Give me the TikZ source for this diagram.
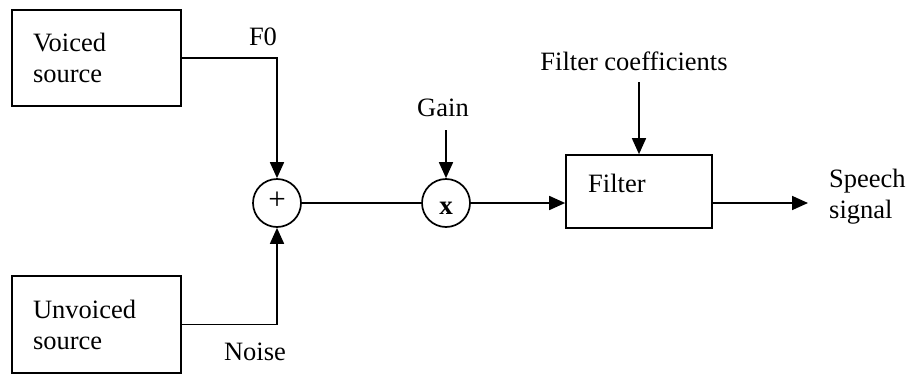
\documentclass[tikz,border=0pt]{standalone}
\usepackage{fontspec}
\setmainfont{Liberation Serif}
\usetikzlibrary{arrows.meta,calc}
\begin{document}
\begin{tikzpicture}[x=1pt,y=-1pt,
  every node/.style={font=\fontsize{26.5}{31}\selectfont},
  line/.style={line width=1.7pt},
  arr/.style={line width=1.7pt,-{Triangle[length=16pt,width=14pt]}},
  srcbox/.style={draw,line width=1.7pt,rectangle,minimum width=169pt,minimum height=96pt,
     text width=127pt,inner xsep=21pt,align=left},
  junction/.style={draw,line width=1.7pt,circle,minimum size=48pt,inner sep=0pt},
  lbl/.style={inner sep=0pt}]
\fill[white] (0,0) rectangle (910,375);
\useasboundingbox (0,0) rectangle (910,375);
\node[srcbox] (voiced) at (96.5,58) {Voiced\\source};
\node[srcbox,minimum height=97pt] (unvoiced) at (96.5,324.5) {Unvoiced\\source};
\node[junction] (plus) at (277,203) {};
\node[lbl,font=\fontsize{31}{31}\selectfont] at (277,201) {+};
\node[junction] (mult) at (446,203) {};
\node[lbl,font=\fontsize{27}{31}\selectfont\bfseries] at (446,208) {x};
\node[draw,line width=1.7pt,rectangle,minimum width=146pt,minimum height=73pt,inner sep=0pt] (filter) at (639,191.5) {};
\node[lbl,anchor=west] (filtertxt) at (588,183) {Filter};
\node[lbl] (f0) at (263,37) {F0};
\node[lbl] (noise) at (255,352) {Noise};
\node[lbl] (gain) at (443,108) {Gain};
\node[lbl] (coef) at (634,61) {Filter coefficients};
\node[lbl,anchor=west,align=left] (speech) at (829,197) {Speech\\signal};
\coordinate (gainstart) at (446,130);
\coordinate (coefstart) at (639,82);
\coordinate (out) at (808,203);
\draw[arr] (voiced.east) -| (plus.north);
\draw[arr] (unvoiced.east) -| (plus.south);
\draw[line] (plus.east) -- (mult.west);
\draw[arr] (gainstart) -- (mult.north);
\draw[arr] (mult.east) -- (mult.east -| filter.west);
\draw[arr] (coefstart) -- (filter.north);
\draw[arr] (mult.east -| filter.east) -- (out);
\end{tikzpicture}
\end{document}
